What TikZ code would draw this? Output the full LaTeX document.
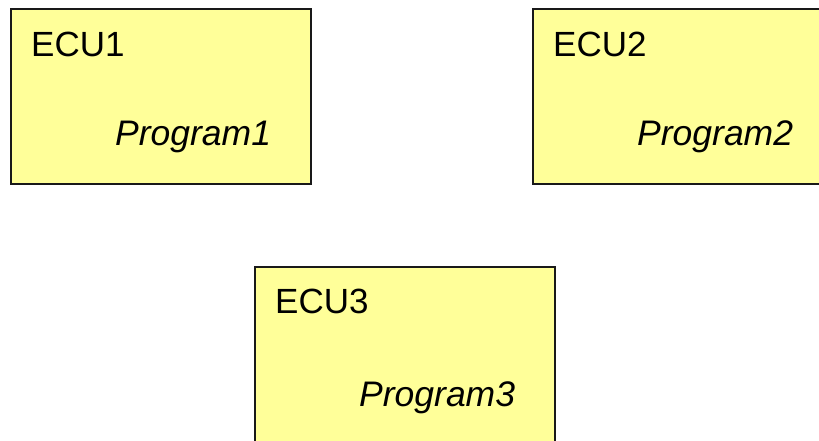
\documentclass[tikz,border=0pt]{standalone}
\usepackage{fontspec}
\setmainfont{Liberation Sans}
\definecolor{boxfill}{HTML}{FFFF99}
\begin{document}
\begin{tikzpicture}[x=1pt,y=-1pt,
  ecubox/.style={draw=black!90,line width=1.6pt,fill=boxfill,rectangle,
    anchor=north west,minimum width=300pt,minimum height=175pt,inner sep=0pt},
  title/.style={anchor=base west,inner sep=0pt,font=\fontsize{35}{42}\selectfont},
  prog/.style={anchor=base west,inner sep=0pt,font=\fontsize{35.5}{42}\selectfont\itshape}]
\useasboundingbox (0,0) rectangle (819,440);
\clip (0,0) rectangle (819,440);
% three controller boxes
\node[ecubox] (ecu1) at (10,8) {};
\node[ecubox] (ecu2) at (532,8) {};
\node[ecubox,minimum height=190pt] (ecu3) at (254,266) {};
% labels inside each box
\node[title] (t1) at ([xshift=21pt,yshift=-48pt]ecu1.north west) {ECU1};
\node[prog]  (p1) at ([xshift=105pt,yshift=-137pt]ecu1.north west) {Program1};
\node[title] (t2) at ([xshift=21pt,yshift=-48pt]ecu2.north west) {ECU2};
\node[prog]  (p2) at ([xshift=105pt,yshift=-137pt]ecu2.north west) {Program2};
\node[title] (t3) at ([xshift=21pt,yshift=-47pt]ecu3.north west) {ECU3};
\node[prog]  (p3) at ([xshift=105pt,yshift=-140pt]ecu3.north west) {Program3};
\end{tikzpicture}
\end{document}
